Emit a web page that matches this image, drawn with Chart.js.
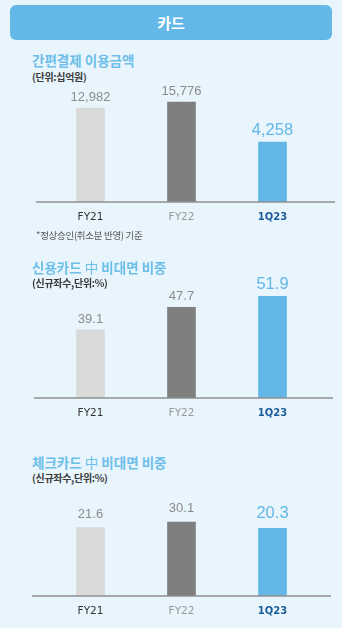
<!DOCTYPE html>
<html>
<head>
<meta charset="utf-8">
<script src="https://cdn.jsdelivr.net/npm/chart.js@4"></script>
<style>
  html, body { margin: 0; padding: 0; }
  body { width: 342px; height: 628px; background: #e8f5fd; position: relative; overflow: hidden;
         font-family: "Noto Sans CJK KR", "Noto Sans", sans-serif; }
  .header { position: absolute; left: 10px; top: 5px; width: 322px; height: 35px; border-radius: 6px;
            background: #63b8e8; color: #fff; font-weight: bold; font-size: 15px; line-height: 35px; text-align: center; }
  .title { position: absolute; left: 32px; font-size: 13.5px; line-height: 16px; font-weight: bold; color: #6dbfe9; white-space: nowrap; }
  .title .thin { font-weight: normal; }
  .sub { position: absolute; left: 32px; font-size: 10px; line-height: 12px; font-weight: bold; color: #3a3a3a; letter-spacing: -0.3px; white-space: nowrap; }
  .note { position: absolute; left: 36px; top: 229px; font-size: 9.5px; line-height: 12px; color: #555; letter-spacing: -0.3px; white-space: nowrap; }
  canvas { position: absolute; left: 0; }
</style>
</head>
<body>
<div class="header">카드</div>

<div class="title" style="top:52px">간편결제 이용금액</div>
<div class="sub" style="top:71px">(단위:십억원)</div>
<canvas id="payChart" width="342" height="170" style="top:60px"></canvas>
<div class="note">*정상승인(취소분 반영) 기준</div>

<div class="title" style="top:259px">신용카드 <span class="thin">中</span> 비대면 비중</div>
<div class="sub" style="top:277px">(신규좌수,단위:%)</div>
<canvas id="creditChart" width="342" height="168" style="top:258px"></canvas>

<div class="title" style="top:454px">체크카드 <span class="thin">中</span> 비대면 비중</div>
<div class="sub" style="top:472px">(신규좌수,단위:%)</div>
<canvas id="checkChart" width="342" height="134" style="top:490px"></canvas>

<script>
const categories = ["FY21", "FY22", "1Q23"];
const payValues = [12982, 15776, 4258];      // 십억원
const creditValues = [39.1, 47.7, 51.9];     // %
const checkValues = [21.6, 30.1, 20.3];      // %

const barColors = ["#d9d9d9", "#7f7f7f", "#63b7e7"];
const tickColors = ["#333333", "#999999", "#1c5d99"];

// baseline across the panel + value labels over the bars
function decorPlugin(d) {
  return {
    id: "decor",
    afterDraw(chart) {
      const c = chart.ctx;
      const area = chart.chartArea;
      c.save();
      c.strokeStyle = "#8f8f8f";
      c.lineWidth = 1.5;
      c.beginPath();
      c.moveTo(d.lineFrom, area.bottom);
      c.lineTo(d.lineTo, area.bottom);
      c.stroke();

      const meta = chart.getDatasetMeta(0);
      const data = chart.data.datasets[0].data;
      c.textAlign = "center";
      c.textBaseline = "alphabetic";
      meta.data.forEach((bar, i) => {
        const last = i === data.length - 1;
        c.font = (last ? "16.5px" : "13px") + ' "Liberation Sans", Arial, sans-serif';
        c.fillStyle = last ? "#63b7e7" : "#8c8c8c";
        c.fillText(d.format(data[i]), bar.x, bar.y - d.gap);
      });
      c.restore();
    }
  };
}

function makeChart(id, values, yScale, d) {
  return new Chart(document.getElementById(id), {
    type: "bar",
    data: {
      labels: categories,
      datasets: [{
        data: values,
        backgroundColor: barColors,
        barThickness: 28,
        base: yScale.min
      }]
    },
    plugins: [decorPlugin(d)],
    options: {
      responsive: false,
      animation: false,
      devicePixelRatio: 1,
      layout: { padding: { left: 45, right: 24, top: d.top, bottom: 0 } },
      plugins: {
        legend: { display: false },
        tooltip: { enabled: false }
      },
      scales: {
        y: Object.assign({ display: false }, yScale),
        x: {
          grid: { display: false, drawTicks: false },
          border: { display: false },
          afterFit(scale) { scale.height = 28; },
          ticks: {
            padding: 9,
            color: ctx => tickColors[ctx.index],
            font: ctx => ({
              family: '"DejaVu Sans", Verdana, sans-serif',
              size: ctx.index === 2 ? 10 : 10.5,
              weight: ctx.index === 2 ? "bold" : "normal"
            })
          }
        }
      }
    }
  });
}

makeChart("payChart", payValues,
  { type: "logarithmic", min: 600, max: 45000 },
  { top: 10, gap: 7, lineFrom: 36, lineTo: 335, format: v => v.toLocaleString("en-US") });

makeChart("creditChart", creditValues,
  { type: "linear", min: 13, max: 62 },
  { top: 12, gap: 7, lineFrom: 34, lineTo: 333, format: v => v.toFixed(1) });

makeChart("checkChart", checkValues,
  { type: "linear", min: -84.5, max: 64.3 },
  { top: 10, gap: 10, lineFrom: 32, lineTo: 331, format: v => v.toFixed(1) });
</script>
</body>
</html>
